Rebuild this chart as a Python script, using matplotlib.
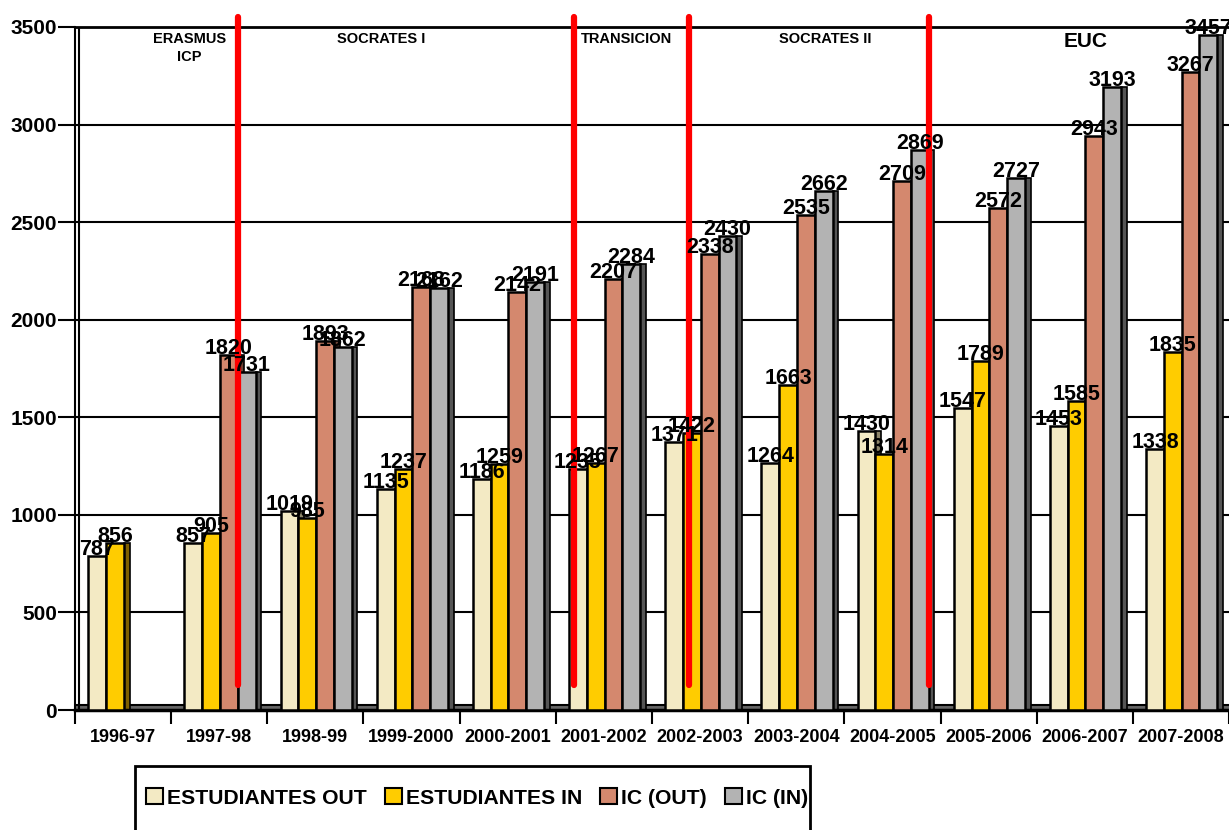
import matplotlib.pyplot as plt
from matplotlib.patches import Rectangle
import numpy as np

plt.rcParams['font.family'] = ['Liberation Sans', 'DejaVu Sans']
plt.rcParams['font.weight'] = 'bold'

# data
years = ['1996-97', '1997-98', '1998-99', '1999-2000', '2000-2001', '2001-2002',
         '2002-2003', '2003-2004', '2004-2005', '2005-2006', '2006-2007', '2007-2008']
est_out = [787, 857, 1019, 1135, 1186, 1235, 1371, 1264, 1430, 1547, 1453, 1338]
est_in = [856, 905, 985, 1237, 1259, 1267, 1422, 1663, 1314, 1789, 1585, 1835]
ic_out = [0, 1820, 1893, 2168, 2142, 2207, 2338, 2535, 2709, 2572, 2943, 3267]
ic_in = [0, 1731, 1862, 2162, 2191, 2284, 2430, 2662, 2869, 2727, 3193, 3457]

series_names = ['ESTUDIANTES OUT', 'ESTUDIANTES IN', 'IC (OUT)', 'IC (IN)']
colors = ['#F3EAC4', '#FFCC00', '#D4886E', '#B3B3B3']
side_colors = ['#8C8468', '#7F6000', '#6E4436', '#555555']

# programme periods (boundaries between years) and their labels
era_bounds = [1.19, 4.69, 5.88, 8.38]
era_labels = [('ERASMUS\nICP', 0.69, 10.5), ('SOCRATES I', 2.68, 10.5),
              ('TRANSICION', 5.24, 10.5), ('SOCRATES II', 7.30, 10.5), ('EUC', 10.01, 15)]

fig = plt.figure(figsize=(12.29, 8.3), dpi=100)
ax = fig.add_axes([75 / 1229, 1 - 710 / 830, 1 - 75 / 1229, 683 / 830])

x = np.arange(len(years))
w = 0.185
offsets = [-0.27, -0.085, 0.10, 0.285]
all_series = [est_out, est_in, ic_out, ic_in]

# floor slab
ax.axhspan(0, 25, color='#666666', zorder=1)
ax.axhline(25, color='black', lw=1.5, zorder=1.5)

for vals, off, c, sc in zip(all_series, offsets, colors, side_colors):
    vals = np.array(vals)
    # dark side face to give a 3D look
    ax.bar(x + off + w / 2 + 0.03, vals, width=0.06, color=sc, edgecolor='black', lw=1.2, zorder=2)
    ax.bar(x + off, vals, width=w, color=c, edgecolor='black', lw=1.8, zorder=3)

for vals, off in zip(all_series, offsets):
    for xi, v in zip(x, vals):
        if v > 0:
            ax.annotate(str(v), (xi + off, v), xytext=(0, -4), textcoords='offset pixels',
                        ha='center', va='bottom', fontsize=15.5, fontweight='bold', zorder=6)

# red period separators
for b in era_bounds:
    ax.plot([b, b], [130, 3550], color='red', lw=4.5, clip_on=False, zorder=5, solid_capstyle='round')

for txt, xp, fs in era_labels:
    ax.text(xp, 0.992, txt, transform=ax.get_xaxis_transform(), ha='center', va='top',
            fontsize=fs, fontweight='bold', linespacing=1.3)

ax.set_xlim(-0.5, len(years) - 0.5)
ax.set_ylim(0, 3500)
ax.set_yticks(np.arange(0, 3501, 500))
ax.yaxis.grid(True, color='black', lw=1.5, zorder=0)
ax.set_axisbelow(True)
ax.tick_params(axis='y', labelsize=15, length=12, width=1.5, pad=1)

ax.set_xticks(x)
ax.set_xticklabels(years, fontsize=13, fontweight='bold')
ax.set_xticks(np.arange(-0.5, len(years), 1), minor=True)
ax.tick_params(axis='x', which='major', length=0, pad=14)
ax.tick_params(axis='x', which='minor', length=10, width=1.5)
for lbl in ax.get_yticklabels():
    lbl.set_fontweight('bold')

ax.spines['right'].set_visible(False)
ax.spines['top'].set_linewidth(2)
ax.spines['left'].set_linewidth(1.5)
ax.spines['bottom'].set_linewidth(2.5)
ax.axvline(-0.46, color='black', lw=1.5, zorder=1)

# legend with open-bottom frame
fig.patches.append(Rectangle((135 / 1229, -0.05), 675 / 1229, 0.05 + 1 - 766 / 830,
                             transform=fig.transFigure, fill=False, edgecolor='black', lw=2))
handles = [Rectangle((0, 0), 1, 1, facecolor=c, edgecolor='black', lw=1.5) for c in colors]
fig.legend(handles, series_names, loc='center left', bbox_to_anchor=(146 / 1229, 1 - 798 / 830),
           ncol=4, frameon=False, prop={'size': 15.2, 'weight': 'bold'},
           handlelength=0.8, handleheight=0.8, handletextpad=0.2, columnspacing=0.85,
           borderpad=0, borderaxespad=0)

fig.savefig('out.png', dpi=100)
